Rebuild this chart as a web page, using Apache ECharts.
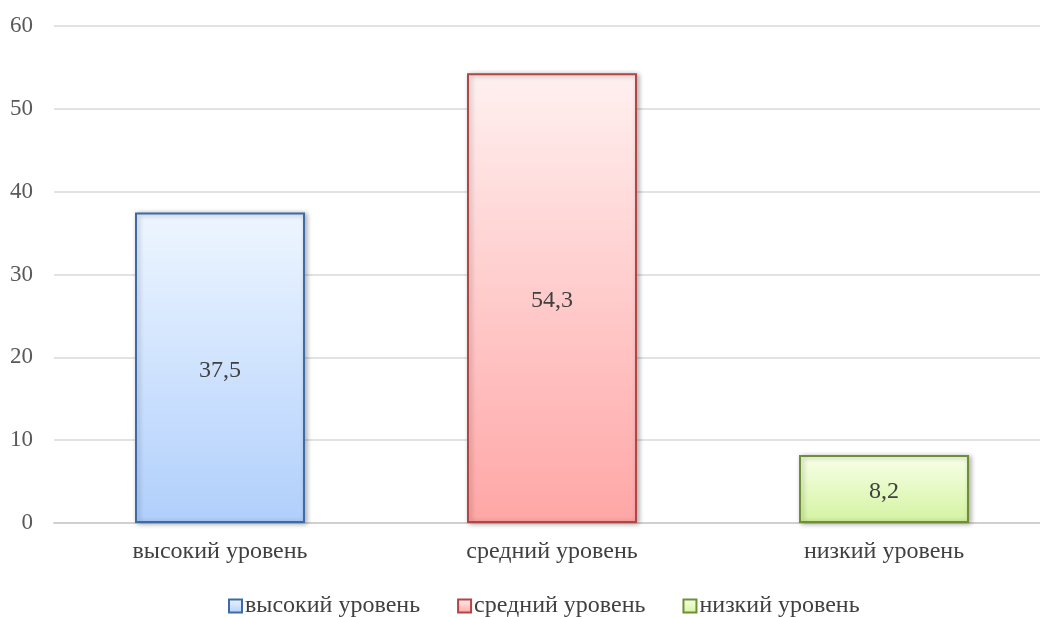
<!DOCTYPE html>
<html><head><meta charset="utf-8">
<script src="https://cdn.jsdelivr.net/npm/echarts@6/dist/echarts.min.js"></script>
<style>html,body{margin:0;padding:0;background:#fff}#c{width:1040px;height:617px}</style>
</head><body><div id="c"></div>
<script>
const categories = ['высокий уровень', 'средний уровень', 'низкий уровень'];
const seriesNames = ['высокий уровень', 'средний уровень', 'низкий уровень'];
const values = [37.5, 54.3, 8.2];
const yTicks = { min: 0, max: 60, interval: 10 };

const styles = [
  { top: '#eef6ff', bottom: '#b0cffc', border: '#3d6aa8' },
  { top: '#fff0f0', bottom: '#ffa6a6', border: '#b04744' },
  { top: '#f8ffe8', bottom: '#d3f3a0', border: '#6f8f36' }
];
const font = 'Liberation Serif, Times New Roman, serif';

const series = seriesNames.map((name, i) => ({
  name: name,
  type: 'bar',
  barWidth: 170,
  barGap: '-100%',
  data: values.map((v, j) => (j === i ? v : '-')),
  itemStyle: {
    color: new echarts.graphic.LinearGradient(0, 0, 0, 1, [
      { offset: 0, color: styles[i].top },
      { offset: 1, color: styles[i].bottom }
    ]),
    borderColor: styles[i].border,
    borderWidth: 2,
    shadowColor: 'rgba(0,0,0,0.3)',
    shadowBlur: 5,
    shadowOffsetX: 2,
    shadowOffsetY: 1
  },
  label: {
    show: true,
    position: 'inside',
    fontFamily: font,
    fontSize: 24,
    color: '#404040',
    offset: [0, 3],
    formatter: p => String(p.value).replace('.', ',')
  }
}));

const chart = echarts.init(document.getElementById('c'), null, { renderer: 'canvas' });
chart.setOption({
  animation: false,
  backgroundColor: '#fff',
  grid: { left: 54, top: 26, width: 996, height: 497, containLabel: false, outerBoundsMode: 'none' },
  legend: {
    top: 589,
    left: 223,
    icon: 'rect',
    itemWidth: 13,
    itemHeight: 13,
    itemGap: 37,
    textStyle: { fontFamily: font, fontSize: 24, color: '#404040', padding: [0, 0, 0, -2] },
    data: seriesNames
  },
  xAxis: {
    type: 'category',
    data: categories,
    axisLine: { lineStyle: { color: '#d0d0d0', width: 2 } },
    axisTick: { show: false },
    axisLabel: { fontFamily: font, fontSize: 24, color: '#404040', margin: 17 }
  },
  yAxis: {
    type: 'value',
    min: yTicks.min,
    max: yTicks.max,
    interval: yTicks.interval,
    axisLine: { show: false },
    axisTick: { show: false },
    splitLine: { lineStyle: { color: '#d9d9d9', width: 1.5 } },
    axisLabel: { fontFamily: font, fontSize: 23, color: '#595959', margin: 21 }
  },
  series: series
});
</script></body></html>
